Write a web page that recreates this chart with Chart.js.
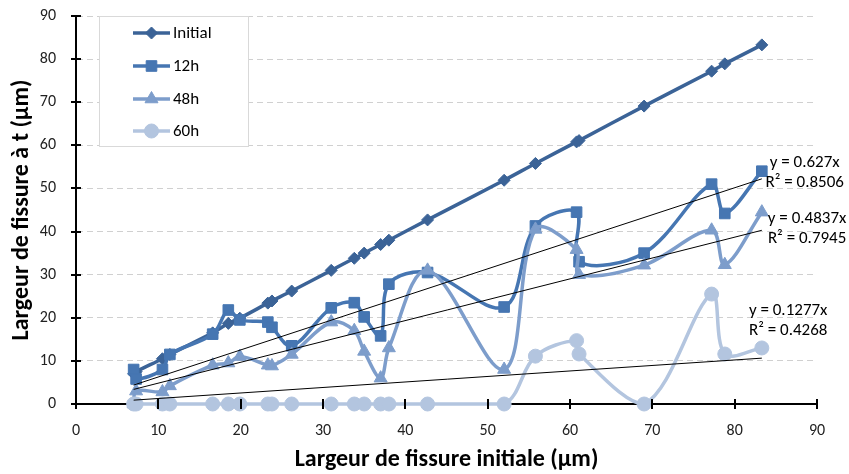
<!DOCTYPE html>
<html>
<head>
<meta charset="utf-8">
<script src="https://cdn.jsdelivr.net/npm/chart.js@4.4.1/dist/chart.umd.min.js"></script>
<style>
  body { margin: 0; background: #fff; }
  #wrap { width: 849px; height: 474px; }
</style>
</head>
<body>
<div id="wrap"><canvas id="myChart" width="849" height="474"></canvas></div>
<script>
// crack widths (µm) - initial width on x, width after time t on y
const xVals = [7.0, 7.3, 10.5, 11.4, 16.6, 18.5, 19.9, 23.3, 23.8, 26.2, 31.0, 33.8, 35.0, 37.0, 38.0, 42.7, 52.0, 55.8, 60.8, 61.1, 69.0, 77.2, 78.8, 83.3];
const initial = [7.0, 7.5, 10.5, 11.5, 16.5, 18.7, 19.9, 23.4, 23.9, 26.2, 31.0, 33.8, 35.0, 37.0, 38.0, 42.7, 51.9, 55.8, 60.8, 61.1, 69.1, 77.2, 78.9, 83.3];
const h12 = [8.0, 5.8, 8.0, 11.5, 16.2, 21.8, 19.5, 19.0, 17.8, 13.5, 22.3, 23.5, 20.2, 15.8, 27.8, 30.5, 22.5, 41.3, 44.5, 33.0, 35.0, 51.0, 44.2, 54.0];
const h48 = [0.0, 3.0, 2.8, 4.2, 9.0, 9.5, 11.0, 9.0, 8.8, 11.5, 19.0, 17.0, 12.2, 6.0, 13.0, 31.0, 8.0, 40.5, 35.8, 30.0, 32.2, 40.3, 32.3, 44.5];
const h60 = [0, 0, 0, 0, 0, 0, 0, 0, 0, 0, 0, 0, 0, 0, 0, 0, 0, 11.1, 14.7, 11.6, 0, 25.5, 11.6, 13.0];

const seriesNames = ["Initial", "12h", "48h", "60h"];
const slopes = [0.627, 0.4837, 0.1277];
const trendText = [
    ["y = 0.627x", "R² = 0.8506"],
    ["y = 0.4837x", "R² = 0.7945"],
    ["y = 0.1277x", "R² = 0.4268"],
];
const xTicks = [0, 10, 20, 30, 40, 50, 60, 70, 80, 90];
const yTicks = [0, 10, 20, 30, 40, 50, 60, 70, 80, 90];

const colors = ["#3b6397", "#4676b2", "#7d9dcb", "#b3c5df"];
const styles = ["rectRot", "rect", "triangle", "circle"];
const radii = [6, 7.5, 7.5, 7];

const FONT = "Carlito, Lato, sans-serif";

function pts(ys) {
    return xVals.map((x, i) => ({ x: x, y: ys[i] }));
}

const xMin = Math.min(...xVals);
const xMax = Math.max(...xVals);

const datasets = [initial, h12, h48, h60].map((ys, i) => ({
    label: seriesNames[i],
    data: pts(ys),
    showLine: true,
    borderColor: colors[i],
    backgroundColor: colors[i],
    borderWidth: 3.5,
    tension: 0.35,
    pointStyle: styles[i],
    pointRadius: radii[i],
    pointBorderWidth: 1,
    order: 4 - i,
    clip: 10,
}));

slopes.forEach((s, i) => {
    datasets.push({
        label: "trend" + i,
        data: [{ x: xMin, y: s * xMin }, { x: xMax, y: s * xMax }],
        showLine: true,
        borderColor: "#000",
        borderWidth: 1,
        pointRadius: 0,
        tension: 0,
        order: 0,
    });
});

// label anchors (data units) for the trendline equations
const trendPos = [
    { x: 88.5, y: [55.9, 51.3] },
    { x: 88.8, y: [42.9, 38.3] },
    { x: 86.5, y: [21.6, 16.9] },
];

const extras = {
    id: "extras",
    afterDatasetsDraw(chart) {
        const ctx = chart.ctx;
        const xs = chart.scales.x, ys = chart.scales.y;
        const area = chart.chartArea;
        ctx.save();

        // cross tick marks like Excel
        ctx.strokeStyle = "#000";
        ctx.lineWidth = 2;
        ctx.beginPath();
        yTicks.forEach(v => {
            const py = Math.round(ys.getPixelForValue(v));
            ctx.moveTo(area.left - 5, py);
            ctx.lineTo(area.left + 5, py);
        });
        xTicks.forEach(v => {
            const px = Math.round(xs.getPixelForValue(v));
            ctx.moveTo(px, area.bottom - 5);
            ctx.lineTo(px, area.bottom + 5);
        });
        ctx.stroke();

        // trendline equations
        ctx.fillStyle = "#000";
        ctx.font = "17px " + FONT;
        ctx.textAlign = "center";
        ctx.textBaseline = "middle";
        trendPos.forEach((p, i) => {
            const px = xs.getPixelForValue(p.x);
            trendText[i].forEach((t, j) => {
                ctx.fillText(t, px, ys.getPixelForValue(p.y[j]));
            });
        });

        // legend box
        ctx.fillStyle = "#fff";
        ctx.fillRect(99.5, 16.5, 149, 130);
        ctx.strokeStyle = "#d9d9d9";
        ctx.lineWidth = 1;
        ctx.strokeRect(99.5, 16.5, 149, 130);
        const rowY = [33, 66, 99, 131];
        seriesNames.forEach((name, i) => {
            const y = rowY[i];
            ctx.strokeStyle = colors[i];
            ctx.fillStyle = colors[i];
            ctx.lineWidth = 3.5;
            ctx.beginPath();
            ctx.moveTo(133, y);
            ctx.lineTo(170, y);
            ctx.stroke();
            ctx.lineWidth = 1;
            Chart.helpers.drawPoint(ctx, {
                pointStyle: styles[i],
                radius: radii[i],
                rotation: 0,
                borderWidth: 1,
            }, 151.5, y);
            ctx.fillStyle = "#000";
            ctx.font = "17px " + FONT;
            ctx.textAlign = "left";
            ctx.fillText(name, 173, y + 1);
        });
        ctx.restore();
    },
};

const config = {
    type: "scatter",
    data: { datasets: datasets },
    options: {
        responsive: false,
        animation: false,
        layout: { padding: { top: 16, right: 32, left: 0, bottom: 0 } },
        plugins: {
            legend: { display: false },
            tooltip: { enabled: false },
        },
        scales: {
            x: {
                type: "linear",
                min: 0,
                max: 90,
                afterFit: s => { s.height = 70; },
                afterBuildTicks: s => { s.ticks = xTicks.map(v => ({ value: v })); },
                grid: { drawOnChartArea: false, drawTicks: false },
                border: { color: "#000", width: 2 },
                ticks: {
                    padding: 17,
                    color: "#222",
                    font: { family: FONT, size: 16 },
                },
                title: {
                    display: true,
                    text: "Largeur de fissure initiale (µm)",
                    color: "#000",
                    font: { family: FONT, size: 24, weight: "bold" },
                    padding: { top: 4, bottom: 0 },
                },
            },
            y: {
                type: "linear",
                min: 0,
                max: 90,
                afterFit: s => {
                    s.width = 76;
                    s.paddingTop = 0;
                    s.paddingBottom = 0;
                },
                afterBuildTicks: s => { s.ticks = yTicks.map(v => ({ value: v })); },
                grid: { color: "#d0d0d0", drawTicks: false, lineWidth: 1 },
                border: { color: "#000", width: 2, dash: [6, 4] },
                ticks: {
                    padding: 20,
                    color: "#222",
                    font: { family: FONT, size: 16 },
                },
                title: {
                    display: true,
                    text: "Largeur de fissure à t (µm)",
                    color: "#000",
                    font: { family: FONT, size: 24, weight: "bold" },
                    padding: { top: 8, bottom: 0 },
                },
            },
        },
    },
    plugins: [extras],
};

const myChart = new Chart(document.getElementById("myChart"), config);
</script>
</body>
</html>
